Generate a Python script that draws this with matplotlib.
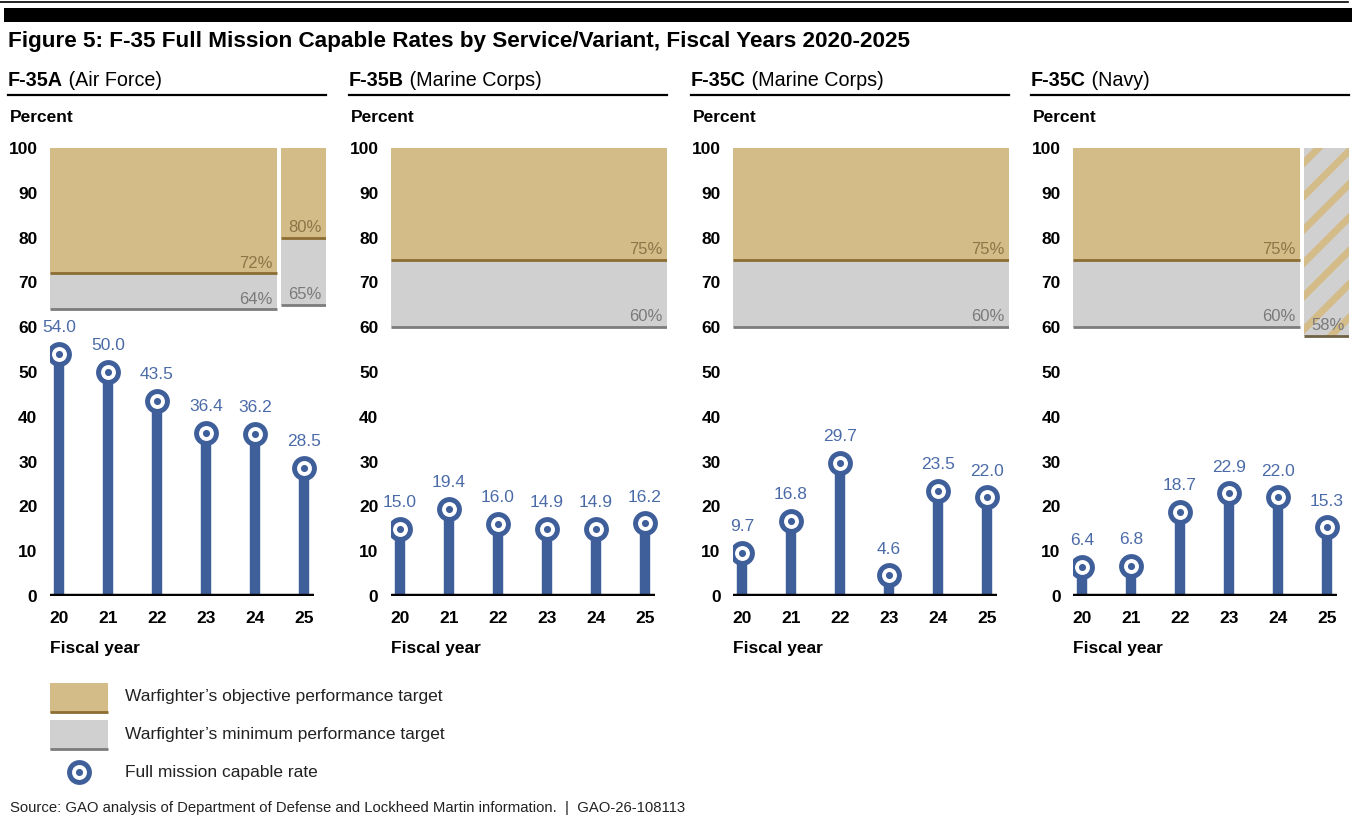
import numpy as np
import matplotlib.pyplot as plt
from matplotlib.patches import Rectangle
from matplotlib.lines import Line2D

plt.rcParams['font.family'] = ['Liberation Sans', 'DejaVu Sans']
plt.rcParams['hatch.linewidth'] = 5.0

# data
years = ['20', '21', '22', '23', '24', '25']
panel_codes = ['F-35A', 'F-35B', 'F-35C', 'F-35C']
panel_services = ['(Air Force)', '(Marine Corps)', '(Marine Corps)', '(Navy)']
fmc_air_force = [54.0, 50.0, 43.5, 36.4, 36.2, 28.5]
fmc_marine_b = [15.0, 19.4, 16.0, 14.9, 14.9, 16.2]
fmc_marine_c = [9.7, 16.8, 29.7, 4.6, 23.5, 22.0]
fmc_navy = [6.4, 6.8, 18.7, 22.9, 22.0, 15.3]
fmc_rates = [fmc_air_force, fmc_marine_b, fmc_marine_c, fmc_navy]
# targets: fiscal years 20-24, then a separate one for 25 where it changed
objective_target = [72, 75, 75, 75]
minimum_target = [64, 60, 60, 60]
objective_fy25 = [80, None, None, None]
minimum_fy25 = [65, None, None, None]
single_target_fy25 = [None, None, None, 58]

TAN = '#d3bc88'
TAN_LINE = '#8c6d32'
TAN_TEXT = '#8e7548'
GREY = '#d0d0d0'
GREY_LINE = '#7c7c7c'
GREY_TEXT = '#7a7a7a'
BLUE = '#3f5f9a'
BLUE_TEXT = '#4b6ba8'

FS = 12.5      # body text size
FS_PCT = 12

W, H = 1360, 823
fig = plt.figure(figsize=(W / 100, H / 100), dpi=100)


def px_rect(x0, y0, x1, y1):
    # pixel box (top-left origin) -> figure fraction
    return [x0 / W, 1 - y1 / H, (x1 - x0) / W, (y1 - y0) / H]


def fig_text(x, y, s, **kw):
    return fig.text(x / W, 1 - y / H, s, **kw)


def target_marker(ax, xs, ys, z=5):
    # blue ring with white gap and blue centre dot
    ax.scatter(xs, ys, s=320, color=BLUE, zorder=z, lw=0)
    ax.scatter(xs, ys, s=115, color='white', zorder=z + 1, lw=0)
    ax.scatter(xs, ys, s=26, color=BLUE, zorder=z + 2, lw=0)


# top rules and title
fig.add_artist(Line2D([0, 1348 / W], [1 - 2 / H] * 2, color='black', lw=1.2))
fig.add_artist(Rectangle((4 / W, 1 - 22 / H), 1348 / W, 14 / H, color='black', lw=0))
fig_text(8, 41, 'Figure 5: F-35 Full Mission Capable Rates by Service/Variant, Fiscal Years 2020-2025',
         fontsize=16.2, fontweight='bold', va='center')

renderer = fig.canvas.get_renderer()
offsets = [0, 341, 683, 1023]
xmin, xmax = -9 / 49, 267 / 49

for k, off in enumerate(offsets):
    # header
    t = fig_text(off + 8, 80, panel_codes[k], fontsize=14.2, fontweight='bold', va='center')
    bb = t.get_window_extent(renderer)
    fig.text(bb.x1 / W, 1 - 80 / H, ' ' + panel_services[k], fontsize=14.2, va='center')
    fig.add_artist(Line2D([(off + 8) / W, (off + 326) / W], [1 - 95 / H] * 2, color='black', lw=1.6))
    fig_text(off + 10, 118, 'Percent', fontsize=FS, fontweight='bold', va='center')
    fig_text(off + 50, 648, 'Fiscal year', fontsize=FS, fontweight='bold', va='center')

    ax = fig.add_axes(px_rect(off + 50, 148, off + 326, 596))
    ax.set_xlim(xmin, xmax)
    ax.set_ylim(0, 100)
    for s in ax.spines.values():
        s.set_visible(False)
    ax.set_xticks(range(len(years)))
    ax.set_xticklabels(years, fontsize=FS, fontweight='bold')
    ax.set_yticks(range(0, 101, 10))
    ax.set_yticklabels([str(v) for v in range(0, 101, 10)], fontsize=FS, fontweight='bold')
    ax.tick_params(axis='x', length=0, pad=11)
    ax.tick_params(axis='y', length=0, pad=9)
    ax.patch.set_visible(False)

    # target bands
    split = objective_fy25[k] is not None or single_target_fy25[k] is not None
    band_end = 4.45 if split else xmax
    obj, mn = objective_target[k], minimum_target[k]
    ax.add_patch(Rectangle((xmin, mn), band_end - xmin, obj - mn, color=GREY, lw=0))
    ax.add_patch(Rectangle((xmin, obj), band_end - xmin, 100 - obj, color=TAN, lw=0))
    ax.hlines(obj, xmin, band_end, color=TAN_LINE, lw=2)
    ax.hlines(mn, xmin, band_end, color=GREY_LINE, lw=2)
    ax.annotate(f'{obj}%', (band_end, obj), xytext=(-3, 2), textcoords='offset points',
                ha='right', va='bottom', fontsize=FS_PCT, color=TAN_TEXT)
    ax.annotate(f'{mn}%', (band_end, mn), xytext=(-3, 2), textcoords='offset points',
                ha='right', va='bottom', fontsize=FS_PCT, color=GREY_TEXT)

    x25 = 4.53
    if objective_fy25[k] is not None:
        o25, m25 = objective_fy25[k], minimum_fy25[k]
        ax.add_patch(Rectangle((x25, m25), xmax - x25, o25 - m25, color=GREY, lw=0))
        ax.add_patch(Rectangle((x25, o25), xmax - x25, 100 - o25, color=TAN, lw=0))
        ax.hlines(o25, x25, xmax, color=TAN_LINE, lw=2)
        ax.hlines(m25, x25, xmax, color=GREY_LINE, lw=2)
        ax.annotate(f'{o25}%', (xmax, o25), xytext=(-3, 2), textcoords='offset points',
                    ha='right', va='bottom', fontsize=FS_PCT, color=TAN_TEXT)
        ax.annotate(f'{m25}%', (xmax, m25), xytext=(-3, 2), textcoords='offset points',
                    ha='right', va='bottom', fontsize=FS_PCT, color=GREY_TEXT)
    if single_target_fy25[k] is not None:
        st = single_target_fy25[k]
        ax.add_patch(Rectangle((x25, st), xmax - x25, 100 - st, facecolor=GREY, lw=0))
        ax.add_patch(Rectangle((x25, st), xmax - x25, 100 - st, facecolor='none',
                               edgecolor=TAN, hatch='/', lw=0))
        ax.hlines(st, x25, xmax, color='#6f6244', lw=2)
        ax.annotate(f'{st}%', (xmax, st), xytext=(-3, 2), textcoords='offset points',
                    ha='right', va='bottom', fontsize=FS_PCT, color=GREY_TEXT)

    # lollipops
    xs = np.arange(len(years))
    vals = fmc_rates[k]
    ax.vlines(xs, 0, vals, color=BLUE, lw=7.5, zorder=3)
    ax.hlines(0, xmin, 5.2, color='black', lw=3.2, zorder=4)
    target_marker(ax, xs, vals)
    for x, v in zip(xs, vals):
        ax.annotate(f'{v:.1f}', (x, v), xytext=(0, 19), textcoords='offset points',
                    ha='center', va='center', fontsize=FS, color=BLUE_TEXT, zorder=8)

# legend
lg = fig.add_axes(px_rect(0, 670, 500, 790))
lg.set_xlim(0, 500)
lg.set_ylim(790, 670)
lg.axis('off')
lg.add_patch(Rectangle((50, 683), 58, 30, color=TAN, lw=0))
lg.hlines(712, 50, 108, color=TAN_LINE, lw=2)
lg.add_patch(Rectangle((50, 720), 58, 30, color=GREY, lw=0))
lg.hlines(749, 50, 108, color=GREY_LINE, lw=2)
target_marker(lg, [79], [772])
for y, s in [(697, 'Warfighter\u2019s objective performance target'),
             (734, 'Warfighter\u2019s minimum performance target'),
             (772, 'Full mission capable rate')]:
    lg.text(125, y, s, fontsize=FS, va='center', color='#222222')

fig_text(10, 808, 'Source: GAO analysis of Department of Defense and Lockheed Martin information.  |  GAO-26-108113',
         fontsize=10.7, va='center', color='#222222')

fig.savefig('out.png', dpi=100)
